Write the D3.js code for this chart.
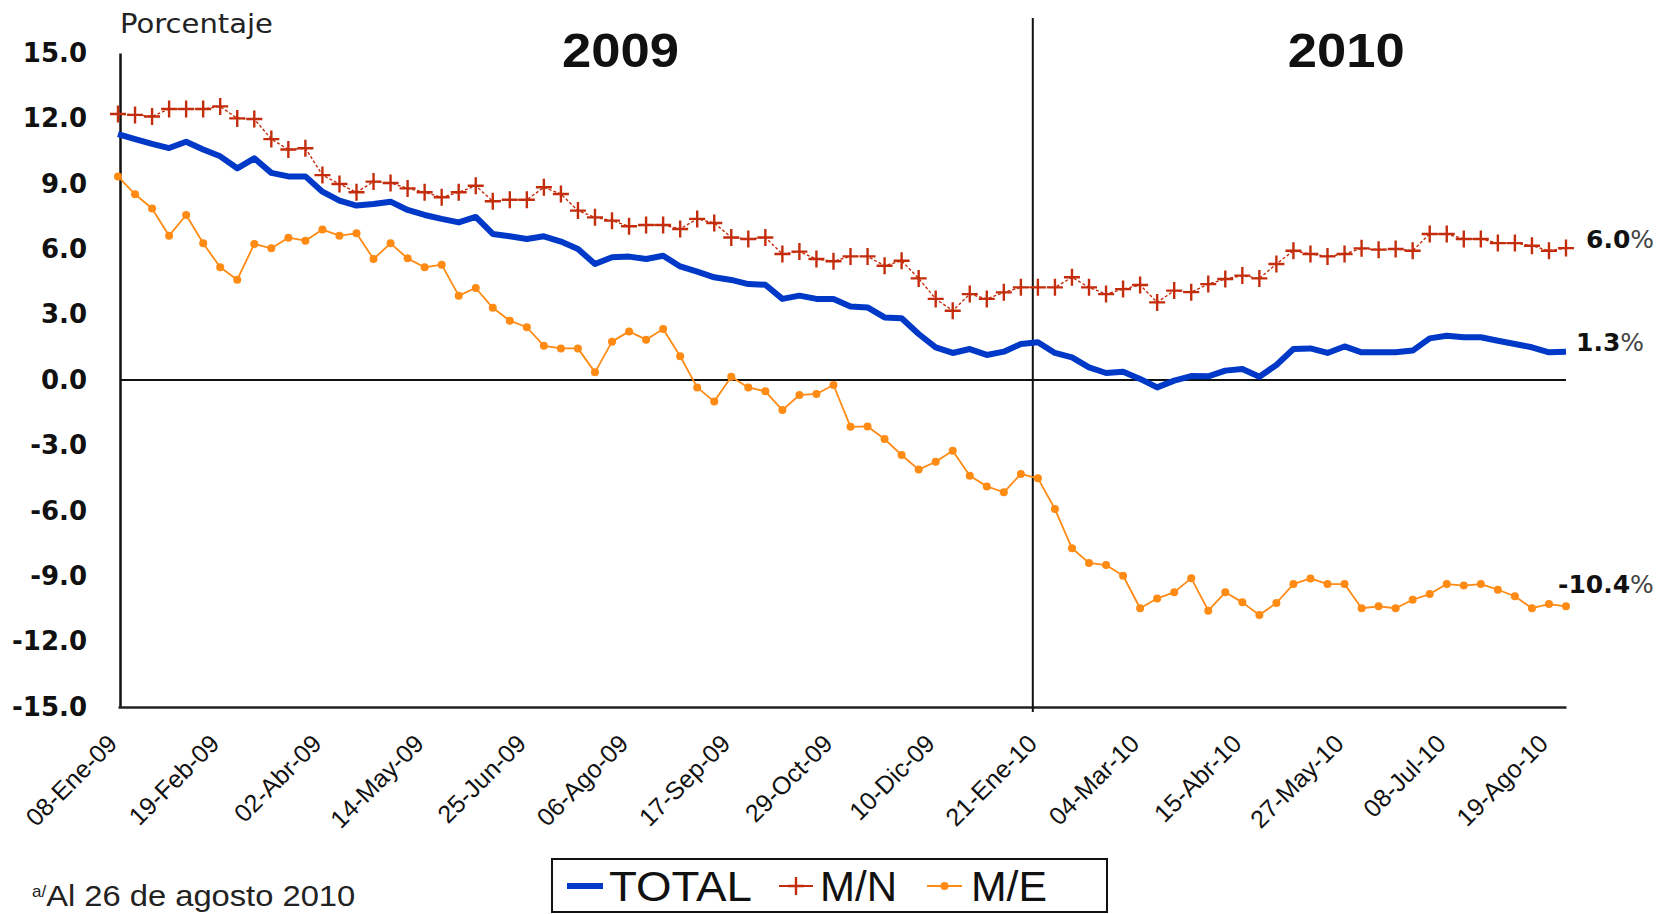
<!DOCTYPE html>
<html>
<head>
<meta charset="utf-8">
<script src="https://cdn.jsdelivr.net/npm/d3@7"></script>
<style>
  html, body { margin: 0; padding: 0; background: #fff; }
  svg { display: block; }
</style>
</head>
<body>
<svg id="chart" width="1667" height="914"></svg>
<script>
// ---------------- DATA ----------------
const seriesNames = ["TOTAL", "M/N", "M/E"];

// weekly observations, 08-Ene-09 ... 26-Ago-10 (86 weeks)
const total = [11.28,11.05,10.83,10.64,10.93,10.57,10.26,9.71,10.17,9.50,
  9.34,9.34,8.64,8.23,8.00,8.07,8.18,7.80,7.57,7.39,
  7.23,7.48,6.70,6.59,6.47,6.59,6.35,6.01,5.32,5.63,
  5.66,5.55,5.70,5.21,4.97,4.71,4.59,4.40,4.37,3.72,
  3.87,3.72,3.72,3.37,3.33,2.87,2.83,2.11,1.50,1.24,
  1.42,1.15,1.30,1.65,1.73,1.24,1.04,0.58,0.32,0.38,
  0.05,-0.34,-0.03,0.18,0.17,0.43,0.50,0.15,0.69,1.42,
  1.45,1.24,1.54,1.27,1.27,1.27,1.35,1.91,2.03,1.96,
  1.96,1.80,1.65,1.50,1.27,1.30];

const mn = [12.20,12.16,12.09,12.43,12.43,12.43,12.55,12.00,11.97,11.05,
  10.57,10.63,9.40,8.99,8.61,9.10,9.04,8.79,8.61,8.38,
  8.61,8.91,8.20,8.27,8.27,8.84,8.53,7.77,7.46,7.31,
  7.05,7.11,7.11,6.93,7.39,7.20,6.54,6.47,6.54,5.78,
  5.89,5.55,5.45,5.67,5.67,5.24,5.47,4.66,3.72,3.18,
  3.94,3.72,4.02,4.25,4.25,4.25,4.71,4.25,3.94,4.17,
  4.36,3.56,4.10,4.03,4.40,4.63,4.79,4.66,5.32,5.93,
  5.78,5.67,5.78,6.04,5.98,6.01,5.93,6.70,6.70,6.47,
  6.47,6.28,6.28,6.16,5.93,6.05];

const me = [9.34,8.52,7.87,6.62,7.57,6.27,5.17,4.60,6.24,6.04,
  6.53,6.39,6.90,6.62,6.73,5.55,6.27,5.58,5.17,5.29,
  3.87,4.22,3.31,2.72,2.42,1.57,1.45,1.45,0.35,1.76,
  2.23,1.85,2.34,1.09,-0.34,-0.99,0.15,-0.34,-0.52,-1.38,
  -0.69,-0.64,-0.23,-2.15,-2.13,-2.71,-3.44,-4.11,-3.75,-3.24,
  -4.39,-4.88,-5.15,-4.31,-4.51,-5.92,-7.72,-8.39,-8.49,-8.98,
  -10.47,-10.02,-9.74,-9.09,-10.58,-9.74,-10.20,-10.78,-10.23,-9.36,
  -9.10,-9.36,-9.36,-10.47,-10.38,-10.47,-10.08,-9.82,-9.36,-9.43,
  -9.36,-9.62,-9.92,-10.47,-10.28,-10.38];

const tickLabels = ["08-Ene-09","19-Feb-09","02-Abr-09","14-May-09","25-Jun-09",
  "06-Ago-09","17-Sep-09","29-Oct-09","10-Dic-09","21-Ene-10",
  "04-Mar-10","15-Abr-10","27-May-10","08-Jul-10","19-Ago-10"];
const tickWeeks = [0,6,12,18,24,30,36,42,48,54,60,66,72,78,84];

const yTicks = [-15,-12,-9,-6,-3,0,3,6,9,12,15];
const endLabels = ["6.0", "1.3", "-10.4"];
const years = ["2009", "2010"];
const yearBreakWeek = 53.7;   // separator between the two years
const yearCentreWeek = [29.5, 72.1];

// ---------------- LAYOUT ----------------
const svg = d3.select("#chart");
svg.append("rect").attr("width",1667).attr("height",914).attr("fill","#fff");

const x = d3.scaleLinear().domain([0, 85]).range([118, 1566]);
const y = d3.scaleLinear().domain([-15, 15]).range([707, 53]);

const colors = { TOTAL: "#0038c8", MN: "#c42d0c", ME: "#ff8a14" };

// y axis
const yAxis = svg.append("g").attr("transform", "translate(120,0)")
  .call(d3.axisLeft(y).tickValues(yTicks).tickSize(0).tickPadding(33)
        .tickFormat(d => d.toFixed(1)));
yAxis.select(".domain").attr("stroke", "#111").attr("stroke-width", 2.5);
yAxis.selectAll("text")
  .attr("font-family", "'DejaVu Sans', Verdana, sans-serif")
  .attr("font-weight", "bold").attr("font-size", 26).attr("fill", "#111");

// x axis (bottom border at -15)
const xAxis = svg.append("g").attr("transform", `translate(0,${y(-15)})`)
  .call(d3.axisBottom(x).tickValues(tickWeeks).tickSize(0)
        .tickFormat((d, i) => tickLabels[i]));
xAxis.select(".domain").attr("stroke", "#222").attr("stroke-width", 2.5);
xAxis.selectAll("text")
  .attr("font-family", "'Liberation Sans', Arial, sans-serif")
  .attr("font-size", 25).attr("fill", "#111")
  .attr("text-anchor", "end")
  .attr("x", 0).attr("y", 0).attr("dy", "0.35em")
  .attr("transform", "translate(-6,32) rotate(-45)");

// zero line
svg.append("line")
  .attr("x1", 120).attr("x2", x(85))
  .attr("y1", y(0)).attr("y2", y(0))
  .attr("stroke", "#111").attr("stroke-width", 2);

// year separator
svg.append("line")
  .attr("x1", x(yearBreakWeek)).attr("x2", x(yearBreakWeek))
  .attr("y1", 18).attr("y2", y(-15) + 5)
  .attr("stroke", "#111").attr("stroke-width", 2);

// year titles
svg.selectAll("text.year").data(years).enter().append("text")
  .attr("class", "year")
  .attr("x", (d, i) => x(yearCentreWeek[i]))
  .attr("y", 67)
  .attr("text-anchor", "middle")
  .attr("font-family", "'Liberation Sans', Arial, sans-serif")
  .attr("font-weight", "bold").attr("font-size", 49)
  .attr("textLength", 117).attr("lengthAdjust", "spacingAndGlyphs")
  .attr("fill", "#111")
  .text(d => d);

// y unit label
svg.append("text")
  .attr("x", 120).attr("y", 33)
  .attr("font-family", "'DejaVu Sans', Verdana, sans-serif")
  .attr("font-size", 27).attr("fill", "#222")
  .attr("textLength", 153).attr("lengthAdjust", "spacingAndGlyphs")
  .text("Porcentaje");

// ---------------- SERIES ----------------
const idx = d3.range(total.length);
const line = arr => d3.line().x(i => x(i)).y(i => y(arr[i]));

// M/E (orange, thin line with dots)
svg.append("path").attr("d", line(me)(idx))
  .attr("fill", "none").attr("stroke", colors.ME).attr("stroke-width", 1.8)
  .attr("stroke-linejoin", "round");
svg.append("g").selectAll("circle").data(idx).enter().append("circle")
  .attr("cx", i => x(i)).attr("cy", i => y(me[i])).attr("r", 4)
  .attr("fill", colors.ME);

// M/N (red, dashed thin line with + markers)
svg.append("path").attr("d", line(mn)(idx))
  .attr("fill", "none").attr("stroke", colors.MN).attr("stroke-width", 1.4)
  .attr("stroke-dasharray", "3,2");
svg.append("g").selectAll("path").data(idx).enter().append("path")
  .attr("d", i => {
    const cx = x(i), cy = y(mn[i]);
    return `M${cx - 8},${cy}H${cx + 8}M${cx},${cy - 8.5}V${cy + 8.5}`;
  })
  .attr("stroke", colors.MN).attr("stroke-width", 2.4).attr("fill", "none");

// TOTAL (thick blue)
svg.append("path").attr("d", line(total)(idx))
  .attr("fill", "none").attr("stroke", colors.TOTAL).attr("stroke-width", 6)
  .attr("stroke-linejoin", "round");

// end labels
const endSeries = [mn, total, me];
const endDx = [20, 10, -8];
const endDy = [-9, -10, -22];
svg.selectAll("text.endlab").data(endLabels).enter().append("text")
  .attr("class", "endlab")
  .attr("x", (d, i) => x(85) + endDx[i])
  .attr("y", (d, i) => y(endSeries[i][85]) + endDy[i])
  .attr("dy", "0.36em")
  .attr("font-family", "'DejaVu Sans', Verdana, sans-serif")
  .attr("font-size", 25).attr("fill", "#111")
  .each(function(d) {
    const t = d3.select(this);
    t.append("tspan").attr("font-weight", "bold").text(d);
    t.append("tspan").attr("fill", "#444").text("%");
  });

// ---------------- LEGEND ----------------
const lg = svg.append("g");
lg.append("rect").attr("x", 552).attr("y", 859).attr("width", 555).attr("height", 53)
  .attr("fill", "#fff").attr("stroke", "#111").attr("stroke-width", 2);
const legY = 886;
const legItems = [
  { name: seriesNames[0], x0: 567, x1: 603, tx: 609, tl: 143, c: colors.TOTAL },
  { name: seriesNames[1], x0: 779, x1: 813, tx: 820, tl: 77, c: colors.MN },
  { name: seriesNames[2], x0: 927, x1: 962, tx: 971, tl: 76, c: colors.ME }
];
legItems.forEach((it, k) => {
  lg.append("line").attr("x1", it.x0).attr("x2", it.x1).attr("y1", legY).attr("y2", legY)
    .attr("stroke", it.c).attr("stroke-width", k === 0 ? 6 : 2);
  const cx = (it.x0 + it.x1) / 2;
  if (k === 1) {
    lg.append("path").attr("d", `M${cx - 8},${legY}H${cx + 8}M${cx},${legY - 9}V${legY + 9}`)
      .attr("stroke", it.c).attr("stroke-width", 2.4);
  }
  if (k === 2) {
    lg.append("circle").attr("cx", cx).attr("cy", legY).attr("r", 4).attr("fill", it.c);
  }
  lg.append("text").attr("x", it.tx).attr("y", legY + 15)
    .attr("font-family", "'Liberation Sans', Arial, sans-serif")
    .attr("font-size", 42).attr("fill", "#111")
    .attr("textLength", it.tl).attr("lengthAdjust", "spacingAndGlyphs")
    .text(it.name);
});

// footnote
const fn = svg.append("text").attr("x", 32).attr("y", 906)
  .attr("font-family", "'Liberation Sans', Arial, sans-serif")
  .attr("fill", "#222");
fn.append("tspan").attr("font-size", 17).attr("dy", -9).text("a/");
fn.append("tspan").attr("font-size", 29).attr("dy", 9)
  .attr("textLength", 309).attr("lengthAdjust", "spacingAndGlyphs")
  .text("Al 26 de agosto 2010");
</script>
</body>
</html>
